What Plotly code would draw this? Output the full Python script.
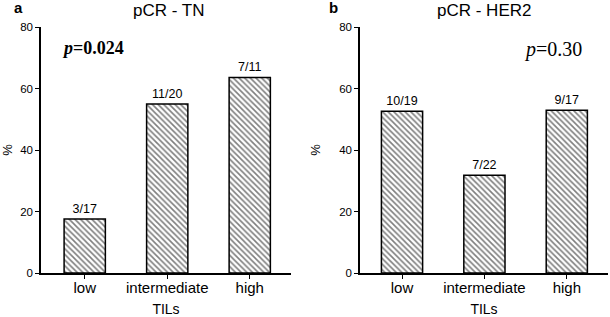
import plotly.graph_objects as go

categories = ["low", "intermediate", "high"]
tn_values = [17.6, 55.0, 63.6]
tn_labels = ["3/17", "11/20", "7/11"]
her2_values = [52.6, 31.8, 52.9]
her2_labels = ["10/19", "7/22", "9/17"]
y_ticks = [0, 20, 40, 60, 80]

W, H = 610, 317
fig = go.Figure()
pattern = dict(shape="\\", fgcolor="black", bgcolor="white", size=4, solidity=0.4)
for vals, labs, xa, ya in [(tn_values, tn_labels, "x", "y"), (her2_values, her2_labels, "x2", "y2")]:
    fig.add_trace(go.Bar(
        x=categories, y=vals, text=labs, textposition="outside",
        textfont=dict(family="Liberation Sans, Arial", size=12.5, color="black"),
        width=0.5, xaxis=xa, yaxis=ya, cliponaxis=False,
        marker=dict(color="white", line=dict(color="black", width=1.5), pattern=pattern),
        showlegend=False, hoverinfo="skip",
    ))

def ax(**kw):
    d = dict(showline=True, linecolor="black", linewidth=1.5, ticks="outside",
             ticklen=4, tickwidth=1.2, tickcolor="black", showgrid=False, zeroline=False,
             automargin=False,
             tickfont=dict(family="Liberation Sans, Arial", size=11.5, color="black"))
    d.update(kw)
    return d

xfont = dict(family="Liberation Sans, Arial", size=15, color="black")
fig.update_layout(
    width=W, height=H, autosize=False, margin=dict(l=0, r=0, t=0, b=0, pad=0),
    plot_bgcolor="white", paper_bgcolor="white",
    font=dict(family="Liberation Sans, Arial", color="black"),
    xaxis=ax(domain=[41/W, 291/W], range=[-0.53, 2.5], anchor="y", tickfont=xfont,
             ticklabelstandoff=-4,
             title=dict(text="TILs", font=dict(size=14), standoff=9)),
    yaxis=ax(domain=[1-273/H, 1-27/H], range=[0, 80], tickvals=y_ticks, anchor="x",
             title=dict(text="%", font=dict(size=13), standoff=16)),
    xaxis2=ax(domain=[360/W, 608/W], range=[-0.51, 2.5], anchor="y2", tickfont=xfont,
              ticklabelstandoff=-4,
              title=dict(text="TILs", font=dict(size=14), standoff=9)),
    yaxis2=ax(domain=[1-273/H, 1-27/H], range=[0, 80], tickvals=y_ticks, anchor="x2",
              title=dict(text="%", font=dict(size=13), standoff=16)),
)

def note(text, x, y, size, family="Liberation Sans, Arial"):
    fig.add_annotation(text=text, x=x/W, y=1-y/H, xref="paper", yref="paper",
                       xanchor="center", yanchor="middle",
                       showarrow=False, font=dict(size=size, family=family, color="black"))

note("<b>a</b>", 18, 8, 15)
note("<b>b</b>", 333, 8, 15)
note("pCR - TN", 168, 10, 17)
note("pCR - HER2", 484, 10, 17)
note("<b><i>p</i>=0.024</b>", 93, 48, 18, "Liberation Serif, Times New Roman")
note("<i>p</i>=0.30", 553, 49, 20, "Liberation Serif, Times New Roman")

fig.write_html("out.html", config={"displayModeBar": False},
               post_script="document.body.style.margin='0';document.body.style.overflow='hidden';")
